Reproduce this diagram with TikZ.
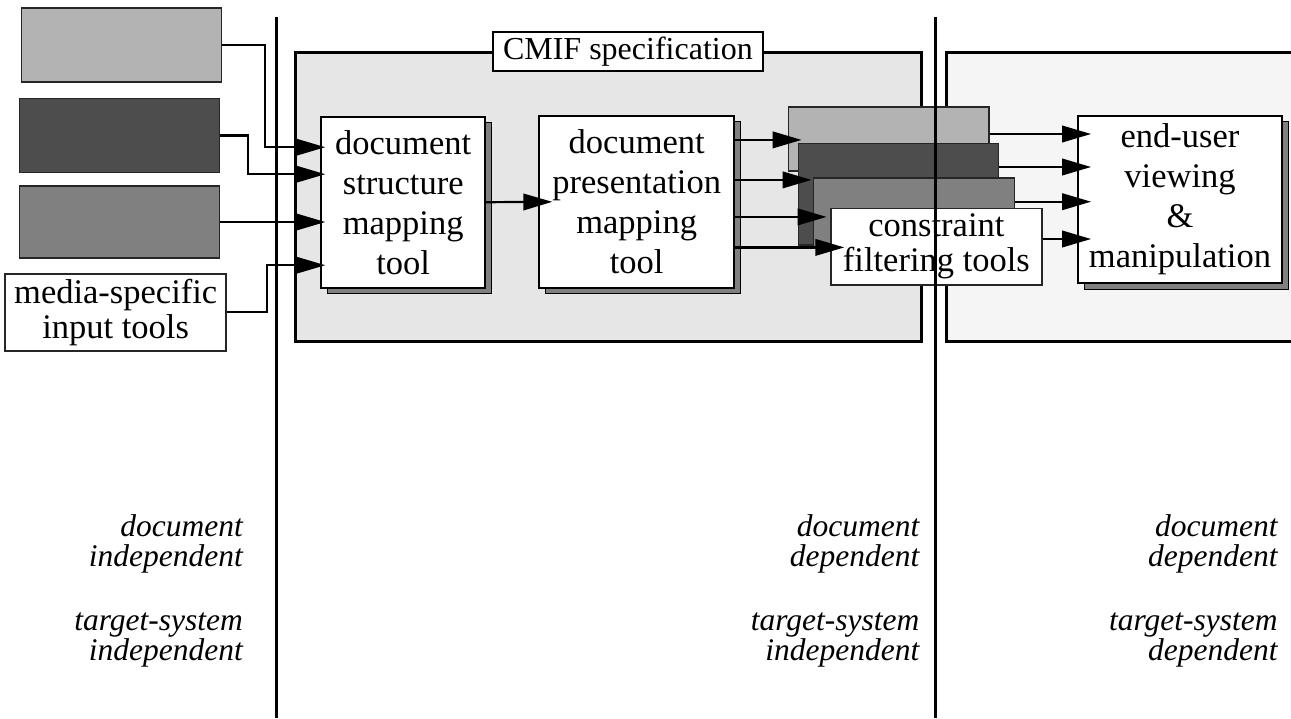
\documentclass[tikz,border=0pt]{standalone}
\usepackage{fontspec}
\setmainfont{Liberation Serif}
\usetikzlibrary{positioning}
\usetikzlibrary{arrows.meta}
\usetikzlibrary{shadows}

\definecolor{lightcard}{HTML}{B3B3B3}
\definecolor{darkcard}{HTML}{4D4D4D}
\definecolor{midcard}{HTML}{808080}
\definecolor{cmifgray}{HTML}{E6E6E6}
\definecolor{targetgray}{HTML}{F5F5F5}
\definecolor{shadowgray}{HTML}{808080}

\begin{document}
\begin{tikzpicture}[x=1pt, y=-1pt, black,
    tool/.style={draw, line width=1.8pt, fill=white, align=center, inner sep=0pt,
      font=\fontsize{34.5}{40}\selectfont,
      copy shadow={shadow xshift=6pt, shadow yshift=-6pt, fill=shadowgray, draw=black, line width=1pt}},
    card/.style={draw=black!85, line width=1.5pt, inner sep=0pt, align=center,
      font=\fontsize{34.5}{35}\selectfont},
    link/.style={line width=2.2pt, -{Triangle[length=29pt,width=16.5pt]}, shorten >=-14pt},
    note/.style={font=\itshape\fontsize{31.5}{30.5}\selectfont, align=right,
      anchor=base east, inner sep=0pt}]
  \useasboundingbox (0,0) rectangle (1291,718);
  % regions
  \draw[fill=cmifgray, line width=3pt] (295.7,52.3) rectangle (921.6,341.7);
  \filldraw[fill=targetgray, line width=3pt] (1300,52.3) -- (946,52.3) -- (946,341.7) -- (1300,341.7);
  \node[draw, line width=2.2pt, fill=white, minimum width=270pt, minimum height=39pt, inner sep=0pt,
    font=\fontsize{32}{36}\selectfont] (cmiflabel) at (627.9,51.2) {CMIF specification};
  % media sources
  \node[card, fill=lightcard, minimum width=200pt, minimum height=74pt] (src1) at (121.4,45.2) {};
  \node[card, fill=darkcard, minimum width=200pt, minimum height=74pt] (src2) at (119.6,135.5) {};
  \node[card, fill=midcard, minimum width=200pt, minimum height=72pt] (src3) at (119.6,222) {};
  \node[card, fill=white, minimum width=221pt, minimum height=77pt] (media) at (115.7,312.3) {media-specific\\input tools};
  % tools
  \node[tool, minimum width=164pt, minimum height=171pt] (structure) at (403.2,202.2) {document\\structure\\mapping\\tool};
  \node[tool, minimum width=195pt, minimum height=172pt] (presentation) at (636.7,201.9) {document\\presentation\\mapping\\tool};
  \node[card, fill=lightcard, minimum width=200.7pt, minimum height=64.3pt] (st1) at (888.7,138.9) {};
  \node[card, fill=darkcard, minimum width=200.4pt, minimum height=101.7pt] (st2) at (898.5,194.2) {};
  \node[card, fill=midcard, minimum width=201pt, minimum height=70.3pt] (st3) at (913.8,212.9) {};
  \node[card, fill=white, minimum width=210.7pt, minimum height=76.7pt] (filter) at (936.4,246.7) {constraint\\filtering tools};
  \node[tool, minimum width=204pt, minimum height=167.3pt] (viewer) at (1180,199.5) {end-user\\viewing\\\&\\manipulation};
  % borders between phases
  \draw[line width=3pt] (276.8,17) -- (276.8,718);
  \draw[line width=3pt] (935.6,17) -- (935.6,718);
  % inputs
  \draw[link, shorten >=-5pt] (src1.east) -- ++(43,0) |- ([yshift=55pt]structure.west);
  \draw[link, shorten >=-5pt] (src2.east) -- ++(28,0) |- ([yshift=28pt]structure.west);
  \draw[link, shorten >=-5pt] (src3.east) -- (src3.east -| structure.west);
  \draw[link, shorten >=-5pt] (media.east) -- ++(40,0) |- ([yshift=-63pt]structure.west);
  \draw[link] (structure.east) -- (presentation.west);
  % presentation to filters
  \coordinate (p1) at ([yshift=62pt]presentation.east);
  \coordinate (p2) at ([yshift=22pt]presentation.east);
  \coordinate (p3) at ([yshift=-15pt]presentation.east);
  \coordinate (p4) at ([yshift=-45.5pt]presentation.east);
  \draw[link] (p1) -- (p1 -| st1.west);
  \draw[link] (p2) -- (p2 -| st2.west);
  \draw[link] (p3) -- (p3 -| st3.west);
  \draw[link] (p4) -- (p4 -| filter.west);
  % filters to viewer
  \coordinate (v1) at ([yshift=65.5pt]viewer.west);
  \coordinate (v2) at ([yshift=32.5pt]viewer.west);
  \coordinate (v3) at ([yshift=-2.2pt]viewer.west);
  \coordinate (v4) at ([yshift=-39.5pt]viewer.west);
  \draw[link] (st1.east |- v1) -- (v1);
  \draw[link] (st2.east |- v2) -- (v2);
  \draw[link] (st3.east |- v3) -- (v3);
  \draw[link] (filter.east |- v4) -- (v4);
  % phase notes
  \node[note] (docA) at (243,566.7) {document\\independent};
  \node[note] (sysA) at (243,660.7) {target-system\\independent};
  \node[note] (docB) at (919.6,566.7) {document\\dependent};
  \node[note] (sysB) at (919.6,660.7) {target-system\\independent};
  \node[note] (docC) at (1277.8,566.7) {document\\dependent};
  \node[note] (sysC) at (1277.8,660.7) {target-system\\dependent};
\end{tikzpicture}
\end{document}
